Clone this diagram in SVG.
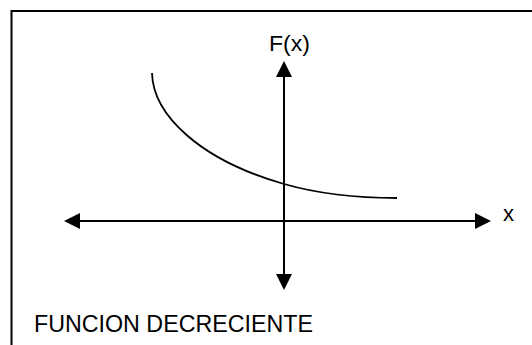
<svg xmlns="http://www.w3.org/2000/svg" width="532" height="345" viewBox="0 0 532 345">
  <style>
    .axis { stroke: #000; stroke-width: 2; fill: none; }
    .curve { stroke: #000; stroke-width: 1.8; fill: none; }
    .lbl { font-family: "Liberation Sans", Arial, sans-serif; fill: #000; }
  </style>
  <defs>
    <marker id="arrow" viewBox="0 -8 16 16" markerWidth="16" markerHeight="16" refX="0" refY="0" markerUnits="userSpaceOnUse" orient="auto-start-reverse">
      <path d="M0,-8 L16,0 L0,8 Z" fill="#000"/>
    </marker>
  </defs>
  <rect width="532" height="345" fill="#fff"/>
  <g id="frame">
    <path d="M11.5,345 V11 H532" stroke="#000" stroke-width="2" fill="none"/>
  </g>
  <g id="connectors">
    <line class="axis" x1="80" y1="221" x2="475" y2="221" marker-start="url(#arrow)" marker-end="url(#arrow)"/>
    <line class="axis" x1="284" y1="77" x2="284" y2="274" marker-start="url(#arrow)" marker-end="url(#arrow)"/>
  </g>
  <g id="curve">
    <path class="curve" d="M152,73 C153,115 200,160 284,184 C319,194 360,198 397,198"/>
  </g>
  <g id="label-fx">
    <text class="lbl" x="269" y="51" font-size="22.5" textLength="41" lengthAdjust="spacingAndGlyphs">F(x)</text>
  </g>
  <g id="label-x">
    <text class="lbl" x="503" y="220.5" font-size="22">x</text>
  </g>
  <g id="title">
    <text class="lbl" x="34" y="332" font-size="24.5" textLength="279" lengthAdjust="spacingAndGlyphs">FUNCION DECRECIENTE</text>
  </g>
</svg>
